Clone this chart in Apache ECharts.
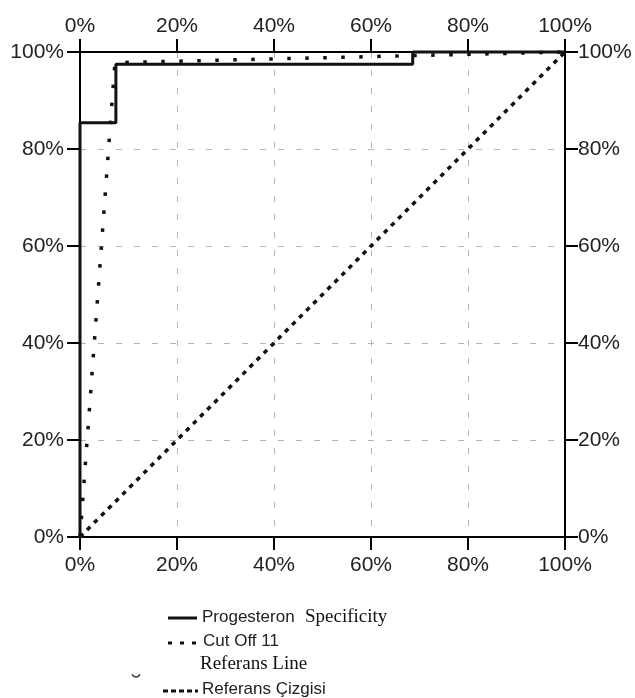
<!DOCTYPE html>
<html>
<head>
<meta charset="utf-8">
<script src="https://cdn.jsdelivr.net/npm/echarts@6/dist/echarts.min.js"></script>
<style>html,body{margin:0;padding:0;background:#fff}#c{width:635px;height:698px}</style>
</head>
<body>
<div id="c"></div>
<script>
// Tick values (percent)
const tickValues = [0, 20, 40, 60, 80, 100];
// Progesteron (solid step ROC curve)
const progX = [0, 0, 7.4, 7.4, 68.6, 68.6, 100];
const progY = [0, 85.4, 85.4, 97.5, 97.5, 100, 100];
// Cut Off 11 (single cut point ROC)
const cutX = [0, 7.2, 100];
const cutY = [0, 97.8, 100];
// Reference (diagonal)
const refX = [0, 100];
const refY = [0, 100];
// Legend labels
const legendItems = ['Progesteron', 'Specificity', 'Cut Off 11', 'Referans Line', 'Referans Çizgisi'];

const zip = (xs, ys) => xs.map((x, i) => [x, ys[i]]);
const chart = echarts.init(document.getElementById('c'), null, {renderer: 'canvas'});
const sans = "'Liberation Sans', Arial, sans-serif";
const serif = "'Liberation Serif', 'Times New Roman', serif";
const lblColor = '#222';

function axisBase(pos, margin, split) {
  return {
    type: 'value', position: pos, min: tickValues[0], max: tickValues[tickValues.length - 1], interval: 20,
    axisLine: {show: true, onZero: false, lineStyle: {color: '#000', width: 2}},
    axisTick: {show: true, inside: false, length: 13, lineStyle: {color: '#000', width: 2}},
    axisLabel: {show: true, margin: margin, color: lblColor, fontFamily: sans, fontSize: 21, formatter: '{value}%'},
    splitLine: {show: split, lineStyle: {color: '#b5b5b5', width: 1, type: [6, 12]}}
  };
}

const option = {
  animation: false,
  backgroundColor: '#fff',
  grid: {left: 80, right: 70, top: 52, bottom: 161, containLabel: false},
  xAxis: [axisBase('bottom', 18, true), axisBase('top', 15, false)],
  yAxis: [axisBase('left', 16, true), axisBase('right', 13, false)],
  series: [
    {type: 'line', name: legendItems[4], data: zip(refX, refY), showSymbol: false, symbol: 'none', clip: false, z: 3,
      lineStyle: {color: '#111', width: 3.5, type: [4.5, 5.5], cap: 'butt'}},
    {type: 'line', name: legendItems[2], data: zip(cutX, cutY), showSymbol: false, symbol: 'none', clip: false, z: 4,
      lineStyle: {color: '#111', width: 3.5, type: [3.5, 14.5], cap: 'butt'}},
    {type: 'line', name: legendItems[0], data: zip(progX, progY), showSymbol: false, symbol: 'none', clip: false, z: 5,
      lineStyle: {color: '#111', width: 3}}
  ],
  graphic: [
    {type: 'line', shape: {x1: 168, y1: 618, x2: 197, y2: 618}, style: {stroke: '#111', lineWidth: 3}},
    {type: 'text', left: 202, top: 609, style: {text: legendItems[0], font: '17px ' + sans, fill: lblColor}},
    {type: 'text', left: 305, top: 608, style: {text: legendItems[1], font: '19px ' + serif, fill: '#111'}},
    {type: 'line', shape: {x1: 168, y1: 643, x2: 197, y2: 643}, style: {stroke: '#111', lineWidth: 3, lineDash: [4, 8]}},
    {type: 'text', left: 203, top: 633, style: {text: legendItems[2], font: '17px ' + sans, fill: lblColor}},
    {type: 'text', left: 200, top: 655, style: {text: legendItems[3], font: '19px ' + serif, fill: '#111'}},
    {type: 'arc', shape: {cx: 136, cy: 673, r: 4, startAngle: 0.3, endAngle: Math.PI - 0.3}, style: {stroke: '#444', lineWidth: 1.5, fill: null}},
    {type: 'line', shape: {x1: 163, y1: 691, x2: 198, y2: 691}, style: {stroke: '#111', lineWidth: 3, lineDash: [5, 3]}},
    {type: 'text', left: 202, top: 681, style: {text: legendItems[4], font: '17px ' + sans, fill: lblColor}}
  ]
};
chart.setOption(option);
</script>
</body>
</html>
